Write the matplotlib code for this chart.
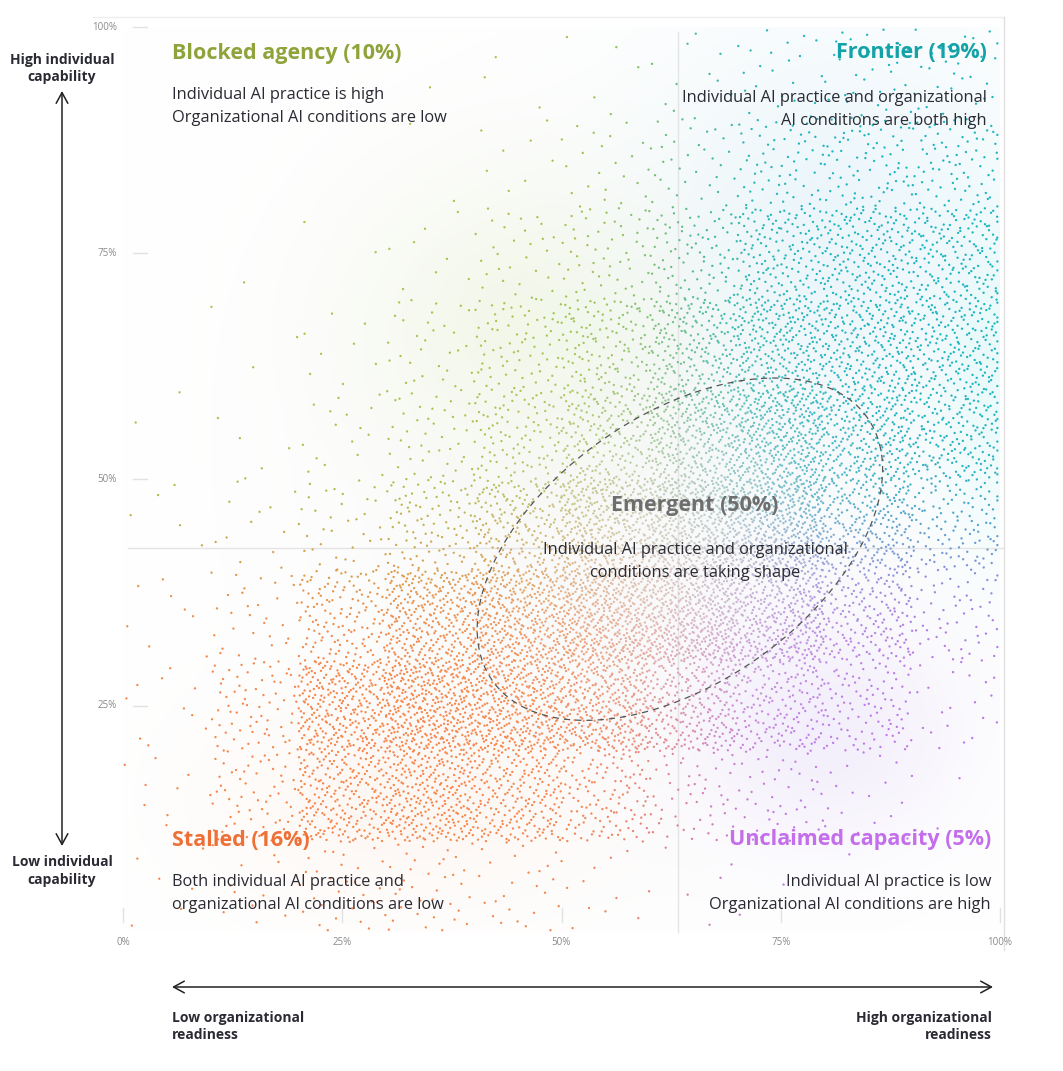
import numpy as np
import matplotlib
matplotlib.use("Agg")
import matplotlib.pyplot as plt
from matplotlib.patches import FancyArrowPatch

# ---------------- data ----------------
# estimated number of respondents per 10% x 10% cell
# rows: individual capability bands from 90-100% (top) down to 0-10% (bottom)
# cols: organizational readiness bands 0-10% ... 90-100%
x_bands = [0, 10, 20, 30, 40, 50, 60, 70, 80, 90]
y_bands = [90, 80, 70, 60, 50, 40, 30, 20, 10, 0]
counts_y90 = [0, 0, 0, 1, 3, 5, 10, 22, 28, 28]
counts_y80 = [0, 0, 0, 2, 8, 22, 35, 65, 80, 80]
counts_y70 = [0, 1, 2, 8, 30, 55, 90, 160, 180, 170]
counts_y60 = [0, 3, 8, 30, 75, 130, 200, 250, 230, 200]
counts_y50 = [2, 5, 16, 45, 105, 190, 300, 360, 260, 190]
counts_y40 = [5, 12, 35, 100, 200, 360, 480, 440, 240, 120]
counts_y30 = [8, 30, 140, 300, 380, 480, 480, 340, 180, 60]
counts_y20 = [10, 70, 300, 400, 380, 340, 240, 170, 100, 20]
counts_y10 = [10, 60, 230, 280, 220, 130, 55, 45, 18, 2]
counts_y0 = [6, 12, 30, 35, 25, 12, 5, 2, 1, 0]
cell_counts = [counts_y90, counts_y80, counts_y70, counts_y60, counts_y50,
               counts_y40, counts_y30, counts_y20, counts_y10, counts_y0]

# quadrant thresholds (%)
readiness_split = 63.3
capability_split = 42.4

tick_values = [0, 25, 50, 75, 100]
tick_labels = ["0%", "25%", "50%", "75%", "100%"]

segments = ["Blocked agency (10%)", "Frontier (19%)", "Emergent (50%)",
            "Stalled (16%)", "Unclaimed capacity (5%)"]

# ---------------- figure ----------------
W, H = 1063, 1071
plt.rcParams['font.family'] = ['Open Sans', 'DejaVu Sans']
fig = plt.figure(figsize=(W / 100, H / 100), dpi=100)
fig.patch.set_facecolor("white")

def fx(px):
    return px / W

def fy(py):
    return 1 - py / H

ax = fig.add_axes([fx(123), fy(932), 877 / W, 905 / H])
ax.set_xlim(0, 100)
ax.set_ylim(0, 100)
ax.axis("off")

# soft background glow
gx, gy = np.meshgrid(np.linspace(0, 100, 300), np.linspace(0, 100, 300))
rgb = np.ones(gx.shape + (3,))
glows = [
    ((55, 50), (24, 26), (0.945, 0.945, 0.945), 0.40),
    ((45, 68), (13, 11), (0.91, 0.95, 0.82), 0.40),
    ((82, 78), (15, 16), (0.84, 0.93, 0.97), 0.45),
    ((99, 62), (4, 14), (0.85, 0.97, 0.97), 0.45),
    ((80, 22), (11, 9), (0.92, 0.89, 0.98), 0.55),
    ((32, 14), (15, 8), (0.99, 0.93, 0.89), 0.40),
]
for (cx, cy), (sx, sy), col, a in glows:
    al = a * np.exp(-(((gx - cx) / sx) ** 2 + ((gy - cy) / sy) ** 2) / 2)
    rgb = rgb * (1 - al[..., None]) + np.array(col) * al[..., None]
ax.imshow(rgb, extent=(0, 100, 0, 100), origin="lower", aspect="auto",
          zorder=0, interpolation="bilinear")

# quadrant lines
grid_col = "#e4e4e4"
ax.plot([0.6, 100.4], [capability_split] * 2, color=grid_col, lw=1, zorder=1, clip_on=False)
ax.plot([readiness_split] * 2, [0, 99.4], color=grid_col, lw=1, zorder=1, clip_on=False)
# frame lines (top and right)
ax.plot([-3.4, 100.4], [101.1, 101.1], color="#eeeeee", lw=1, clip_on=False, zorder=1)
ax.plot([100.4, 100.4], [-2.0, 101.1], color="#e0e0e0", lw=1, clip_on=False, zorder=1)

# ---------------- points ----------------
def halton(i, b):
    f, r = 1.0, 0.0
    while i > 0:
        f /= b
        r += f * (i % b)
        i //= b
    return r

xs, ys = [], []
k = 1
for r, row in enumerate(cell_counts):
    y0 = y_bands[r]
    for c, n in enumerate(row):
        x0 = x_bands[c]
        for _ in range(n):
            xs.append(x0 + 10 * halton(k, 2))
            ys.append(y0 + 10 * halton(k, 3))
            k += 1
xs = np.clip(np.array(xs), 0.2, 99.7)
ys = np.clip(np.array(ys), 0.2, 99.7)

BL = np.array([246, 135, 76]) / 255
BR = np.array([190, 118, 232]) / 255
TL = np.array([168, 196, 76]) / 255
TR = np.array([28, 182, 192]) / 255
wx = 1 / (1 + np.exp(-(xs - readiness_split) / 4.0))
wy = 1 / (1 + np.exp(-(ys - capability_split) / 4.0))
cols = ((1 - wx) * (1 - wy))[:, None] * BL + (wx * (1 - wy))[:, None] * BR \
    + ((1 - wx) * wy)[:, None] * TL + (wx * wy)[:, None] * TR
d = np.sqrt((xs - readiness_split) ** 2 + (ys - capability_split) ** 2)
f = 0.72 * np.exp(-(d / 17.0) ** 2)
cols = cols * (1 - f[:, None]) + np.array([0.91, 0.87, 0.87]) * f[:, None]
ax.scatter(xs, ys, s=2.8, c=cols, linewidths=0, zorder=2)

# dashed "emergent" outline (rotated ellipse, pixel-space shape)
t = np.linspace(0, 2 * np.pi, 400)
a_px, b_px, th = 229, 134, np.deg2rad(35)
ex = readiness_split + 0.2 + (a_px * np.cos(t) * np.cos(th) - b_px * np.sin(t) * np.sin(th)) / 8.77
ey = capability_split - 0.1 + (a_px * np.cos(t) * np.sin(th) + b_px * np.sin(t) * np.cos(th)) / 9.05
ax.plot(ex, ey, color="#555555", lw=0.9, ls=(0, (5, 4)), zorder=3)

# ---------------- ticks ----------------
tick_col = "#e2e2e2"
lab_col = "#8a8a8a"
for v, lab in zip(tick_values, tick_labels):
    ax.plot([v, v], [1.1, 2.65], color=tick_col, lw=1, clip_on=False, zorder=1)
    ax.text(v, -1.2, lab, ha="center", va="center", fontsize=7, color=lab_col)
    if v > 0:
        ax.plot([1.14, 2.74], [v, v], color=tick_col, lw=1, clip_on=False, zorder=1)
        ax.text(-0.7, v, lab, ha="right", va="center", fontsize=7, color=lab_col)

# ---------------- text ----------------
body_col = "#2a2a33"
title_fs = 15.5
body_fs = 11.8

def label(px, py, s, ha="left", color=body_col, fs=body_fs, weight="normal"):
    fig.text(fx(px), fy(py), s, ha=ha, va="center", color=color,
             fontsize=fs, fontweight=weight)

label(172, 53, segments[0], color="#8ea33a", fs=title_fs, weight="bold")
label(172, 95, "Individual AI practice is high")
label(172, 118, "Organizational AI conditions are low")

label(987, 53, segments[1], ha="right", color="#13a2a6", fs=title_fs, weight="bold")
label(987, 98, "Individual AI practice and organizational", ha="right")
label(987, 121, "AI conditions are both high", ha="right")

label(695, 506, segments[2], ha="center", color="#6e6e6e", fs=title_fs, weight="bold")
label(695, 550, "Individual AI practice and organizational", ha="center")
label(695, 573, "conditions are taking shape", ha="center")

label(172, 840, segments[3], color="#ee7036", fs=title_fs, weight="bold")
label(172, 882, "Both individual AI practice and")
label(172, 905, "organizational AI conditions are low")

label(991, 840, segments[4], ha="right", color="#c46eeb", fs=title_fs, weight="bold")
label(991, 882, "Individual AI practice is low", ha="right")
label(991, 905, "Organizational AI conditions are high", ha="right")

# axis descriptions
ax_fs = 10
label(62, 60, "High individual", ha="center", fs=ax_fs, weight="bold")
label(62, 77, "capability", ha="center", fs=ax_fs, weight="bold")
label(62, 862, "Low individual", ha="center", fs=ax_fs, weight="bold")
label(62, 880, "capability", ha="center", fs=ax_fs, weight="bold")
label(172, 1018, "Low organizational", fs=ax_fs, weight="bold")
label(172, 1035, "readiness", fs=ax_fs, weight="bold")
label(992, 1018, "High organizational", ha="right", fs=ax_fs, weight="bold")
label(992, 1035, "readiness", ha="right", fs=ax_fs, weight="bold")

arrow_kw = dict(arrowstyle="<->,head_length=0.55,head_width=0.3", color="#222222",
                lw=1.1, mutation_scale=14, shrinkA=0, shrinkB=0)
fig.patches.append(FancyArrowPatch((fx(62), fy(846)), (fx(62), fy(91)),
                                   transform=fig.transFigure, **arrow_kw))
fig.patches.append(FancyArrowPatch((fx(172), fy(987)), (fx(993), fy(987)),
                                   transform=fig.transFigure, **arrow_kw))

fig.savefig("out.png", dpi=100, facecolor="white")
